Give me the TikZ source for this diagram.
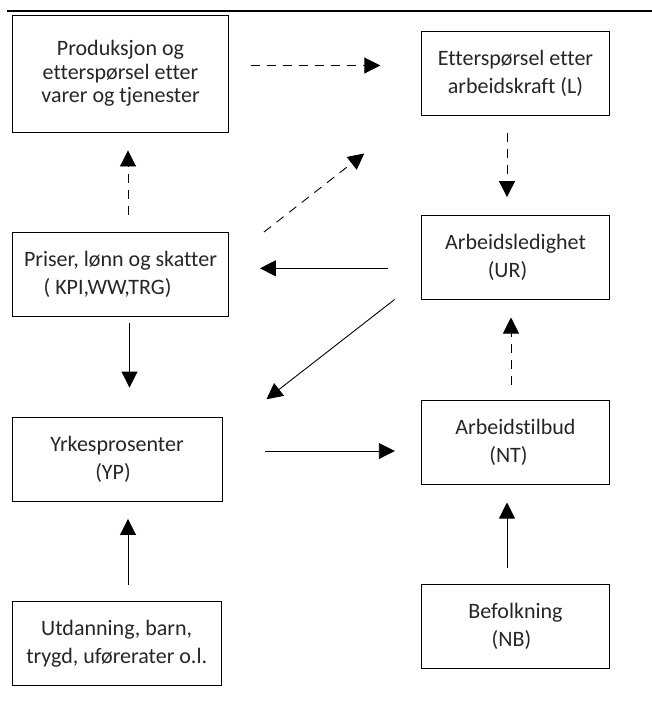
\documentclass[tikz,border=0pt]{standalone}
\usepackage{fontspec}
\setmainfont{Carlito}[Ligatures=NoCommon]
\usetikzlibrary{arrows.meta}

\tikzset{
	box/.style={draw, line width=0.9pt, inner sep=0pt, align=center,
		text=black!85, font=\fontsize{22}{28}\selectfont},
	leftbox/.style={box, minimum width=216pt, minimum height=84pt},
	rightbox/.style={box, minimum width=187.5pt, minimum height=83.5pt},
	arr/.style={line width=0.9pt, -{Triangle[length=16pt, width=16pt]}},
	dsh/.style={arr, dash pattern=on 9pt off 7pt},
}

\begin{document}
\begin{tikzpicture}[x=1pt, y=-1pt]
	% page frame
	\useasboundingbox (0,0) rectangle (652,713);
	\draw[line width=1.1pt] (7,11) -- (652,11);
	% column centres
	\def\xl {120.5};
	\def\xr {515.5};
	% left column
	\node[leftbox, minimum height=117pt, font=\fontsize{22}{23.5}\selectfont] (prod) at (\xl,73.5)
		{Produksjon og\\etterspørsel etter\\varer og tjenester};
	\node[leftbox] (priser) at (\xl,274.5)
		{Priser, lønn og skatter\\( KPI,WW,TRG)\hspace*{26pt}\mbox{}};
	\node[leftbox, minimum width=210pt] (yp) at (117,459)
		{Yrkesprosenter\\(YP)\hspace*{8pt}\mbox{}};
	\node[leftbox, minimum width=209pt] (utd) at (116.7,643.8)
		{Utdanning, barn,\\trygd, uførerater o.l.};
	% right column
	\node[rightbox] (ettl) at (\xr,73.3) {Etterspørsel etter\\arbeidskraft (L)};
	\node[rightbox] (ur) at (\xr,257.3) {Arbeidsledighet\\(UR)\hspace*{16pt}\mbox{}};
	\node[rightbox] (nt) at (\xr,442.3) {Arbeidstilbud\\(NT)\hspace*{14pt}\mbox{}};
	\node[rightbox] (nb) at (\xr,626.6) {Befolkning\\(NB)\hspace*{8pt}\mbox{}};
	% dashed edges
	\draw[dsh, shorten <=22pt, shorten >=41pt] ([yshift=8pt]prod.east) -- ([yshift=8pt]prod.east -| ettl.west);
	\draw[dsh, shorten <=17pt, shorten >=18pt] ([xshift=-8.5pt]ettl.south) -- ([xshift=-8.5pt]ur.north);
	\draw[dsh, shorten <=17pt, shorten >=18pt] ([xshift=7.5pt]priser.north) -- ([xshift=7.5pt]priser.north |- prod.south);
	\draw[dsh] ([xshift=35pt]priser.north east) -- ([xshift=-57pt, yshift=-38pt]ettl.south west);
	\draw[dsh, shorten <=15.5pt, shorten >=18pt] ([xshift=-4.5pt]nt.north) -- ([xshift=-4.5pt]ur.south);
	% solid edges
	\draw[arr, shorten <=33pt, shorten >=31pt] ([yshift=-11pt]ur.west) -- ([yshift=-11pt]ur.west -| priser.east);
	\draw[arr] ([xshift=-26.7pt]ur.south west) -- ([xshift=44pt, yshift=17.3pt]yp.north east);
	\draw[arr, shorten <=6.5pt, shorten >=29pt] ([xshift=9pt]priser.south) -- ([xshift=9pt]priser.south |- yp.north);
	\draw[arr, shorten <=43pt, shorten >=26.5pt] ([yshift=8pt]yp.east) -- ([yshift=8pt]yp.east -| nt.west);
	\draw[arr, shorten <=16.7pt, shorten >=18pt] ([xshift=-8.5pt]nb.north) -- ([xshift=-8.5pt]nt.south);
	\draw[arr, shorten <=16.7pt, shorten >=17.5pt] ([xshift=11.3pt]utd.north) -- ([xshift=11.3pt]utd.north |- yp.south);
\end{tikzpicture}
\end{document}
